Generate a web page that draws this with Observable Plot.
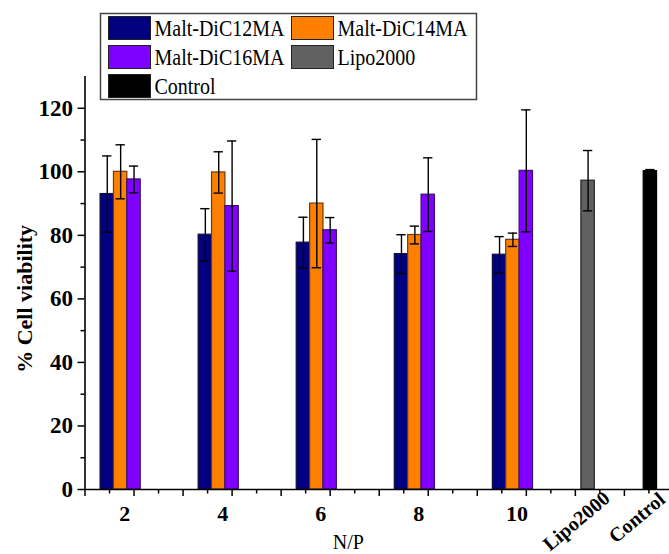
<!DOCTYPE html>
<html><head><meta charset="utf-8">
<script src="https://cdn.jsdelivr.net/npm/d3@7"></script>
<script src="https://cdn.jsdelivr.net/npm/@observablehq/plot@0.6"></script>
<style>
body{margin:0;background:#fff;font-family:"Liberation Serif","Times New Roman",serif;}
#wrap{position:relative;width:669px;height:554px;overflow:hidden;}
</style></head><body><div id="wrap"><div id="chart"></div></div>
<script>
// ---- data ----
const categories = ["2", "4", "6", "8", "10", "Lipo2000", "Control"];
const series = ["Malt-DiC12MA", "Malt-DiC14MA", "Malt-DiC16MA"];
const c12Values = [93.0, 80.2, 77.7, 74.1, 73.9];
const c12Errors = [12.0, 8.2, 8.0, 6.1, 5.7];
const c14Values = [100.0, 99.8, 90.0, 80.1, 78.6];
const c14Errors = [8.5, 6.5, 20.2, 2.8, 2.1];
const c16Values = [97.6, 89.2, 81.6, 92.8, 100.3];
const c16Errors = [4.2, 20.5, 4.0, 11.6, 19.2];
const lipoValue = 97.2, lipoError = 9.5;
const controlValue = 100.2, controlError = 0.5;
// Origin-style X column of each category
const xColumn = [1, 3, 5, 7, 9, 10.26, 11.53];
const yTicks = [0, 20, 40, 60, 80, 100, 120];
const yMinor = [10, 30, 50, 70, 90, 110];
const yLabel = "% Cell viability";
const xLabel = "N/P";

// ---- styles ----
const fills = {"Malt-DiC12MA": "#000080", "Malt-DiC14MA": "#ff8000", "Malt-DiC16MA": "#8000ff", "Lipo2000": "#616161", "Control": "#000000"};
const strokes = {"Malt-DiC12MA": "#10103a", "Malt-DiC14MA": "#6a3a10", "Malt-DiC16MA": "#3c1070", "Lipo2000": "#222", "Control": "#000"};
const barW = 0.273;
const capHalf = 0.095;

const vals = [c12Values, c14Values, c16Values];
const errs = [c12Errors, c14Errors, c16Errors];
const rows = [];
for (let i = 0; i < 5; i++) {
  series.forEach((s, k) => rows.push({cat: categories[i], series: s, value: vals[k][i], err: errs[k][i], x: xColumn[i] + (k - 2) * barW}));
}
rows.push({cat: "Lipo2000", series: "Lipo2000", value: lipoValue, err: lipoError, x: xColumn[5]});
rows.push({cat: "Control", series: "Control", value: controlValue, err: controlError, x: xColumn[6]});

const groupLabels = categories.slice(0, 5).map((c, i) => ({label: c, x: xColumn[i] - barW}));
const rotLabels = categories.slice(5).map((c, i) => ({label: c, x: xColumn[5 + i]}));

const font = '"Liberation Serif","Times New Roman",serif';
const seriesAll = [...series, "Lipo2000", "Control"];

const chart = Plot.plot({
  width: 669, height: 554,
  marginLeft: 84.5, marginRight: 0, marginTop: 76, marginBottom: 65,
  style: {fontFamily: font, background: "transparent", overflow: "visible"},
  x: {domain: [0, 11.92], axis: null},
  y: {domain: [0, 130], axis: null},
  marks: [
    ...seriesAll.map(s => Plot.rectY(rows.filter(d => d.series === s), {
      x1: d => d.x - barW / 2, x2: d => d.x + barW / 2, y1: 0, y2: "value",
      fill: fills[s], stroke: strokes[s], strokeWidth: 1.2
    })),
    Plot.ruleX(rows, {x: "x", y1: d => d.value - d.err, y2: d => d.value + d.err, stroke: "#000", strokeWidth: 1.4}),
    Plot.ruleY(rows, {y: d => d.value + d.err, x1: d => d.x - capHalf, x2: d => d.x + capHalf, stroke: "#000", strokeWidth: 1.4}),
    Plot.ruleY(rows, {y: d => d.value - d.err, x1: d => d.x - capHalf, x2: d => d.x + capHalf, stroke: "#000", strokeWidth: 1.4}),
    Plot.axisY({ticks: yTicks, tickSize: 7, tickPadding: 5, tickFormat: d => String(d), fontSize: 23, fontWeight: "bold", fontFamily: font, label: null, strokeWidth: 1.5}),
    Plot.axisY({ticks: yMinor, tickSize: 4, tickFormat: () => "", label: null, strokeWidth: 1.5}),
    Plot.axisX({ticks: d3.range(0, 12), tickSize: 7, tickFormat: () => "", label: null, strokeWidth: 1.5}),
    Plot.axisX({ticks: d3.range(0.5, 12, 1), tickSize: 4.5, tickFormat: () => "", label: null, strokeWidth: 1.5}),
    Plot.ruleX([0], {stroke: "#000", strokeWidth: 1.6}),
    Plot.ruleY([0], {stroke: "#000", strokeWidth: 1.6}),
    Plot.text(groupLabels, {x: "x", y: 0, text: "label", dy: 24, dx: 4, fontSize: 22, fontWeight: "bold", fontFamily: font, fill: "#000", lineAnchor: "middle"}),
    Plot.text(rotLabels.slice(0, 1), {x: "x", y: 0, text: "label", dx: 14, dy: 0, rotate: -40, textAnchor: "end", lineAnchor: "top", fontSize: 20, fontWeight: "bold", fontFamily: font, fill: "#000"}),
    Plot.text(rotLabels.slice(1), {x: "x", y: 0, text: "label", dx: 7, dy: 1, rotate: -40, textAnchor: "end", lineAnchor: "top", fontSize: 20, fontWeight: "bold", fontFamily: font, fill: "#000"}),
    Plot.text([yLabel], {text: d => d, frameAnchor: "left", y: (yTicks[0] + yTicks[yTicks.length - 1]) / 2, dx: -60, rotate: -90, fontSize: 22, fontWeight: "bold", fontFamily: font, fill: "#000", textAnchor: "middle", lineAnchor: "middle"}),
    Plot.text([xLabel], {text: d => d, frameAnchor: "bottom", dx: -29, dy: 59, fontSize: 20, fontFamily: font, fill: "#000", lineAnchor: "bottom"})
  ]
});
document.getElementById("chart").appendChild(chart);

// ---- legend: drawn into the SVG as an overlay group ----
const svgNS = "http://www.w3.org/2000/svg";
const g = document.createElementNS(svgNS, "g");
g.setAttribute("font-family", font);
g.setAttribute("text-anchor", "start");
const box = document.createElementNS(svgNS, "rect");
Object.entries({x: 100.5, y: 13.5, width: 376, height: 86, fill: "#fff", stroke: "#444", "stroke-width": 1.5}).forEach(([k, v]) => box.setAttribute(k, v));
g.appendChild(box);
const legendPos = [[0, 0], [1, 0], [0, 1], [1, 1], [0, 2]];
seriesAll.forEach((s, i) => {
  const [col, row] = legendPos[i];
  const sx = col === 0 ? 108.5 : 291.5;
  const sy = 16.5 + row * 29;
  const r = document.createElementNS(svgNS, "rect");
  Object.entries({x: sx, y: sy, width: 42, height: 23, fill: fills[s], stroke: "#222", "stroke-width": 1}).forEach(([k, v]) => r.setAttribute(k, v));
  g.appendChild(r);
  const t = document.createElementNS(svgNS, "text");
  t.setAttribute("transform", `translate(${sx + 46},${sy + 19.5}) scale(1,1.2)`);
  t.setAttribute("font-size", 20);
  t.setAttribute("text-anchor", "start");
  t.setAttribute("fill", "#000");
  t.textContent = s;
  g.appendChild(t);
});
chart.appendChild(g);
</script></body></html>
